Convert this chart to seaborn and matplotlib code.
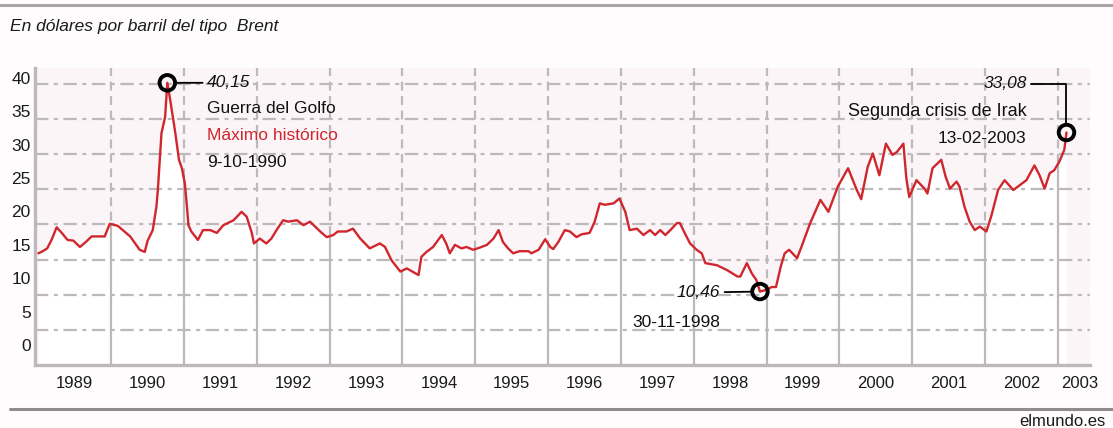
import numpy as np
import pandas as pd
import matplotlib
matplotlib.use("Agg")
import matplotlib.pyplot as plt
import matplotlib.transforms as mtransforms
from matplotlib.lines import Line2D
import seaborn as sns

# ---------------- data ----------------
fechas = [
    1989.00, 1989.06, 1989.12, 1989.18, 1989.25, 1989.32, 1989.40, 1989.48, 1989.57, 1989.65,
    1989.73, 1989.91, 1989.98, 1990.09, 1990.26, 1990.39, 1990.46, 1990.50, 1990.57, 1990.62,
    1990.64, 1990.69, 1990.74, 1990.77, 1990.81, 1990.88, 1990.93, 1990.97, 1991.01, 1991.04,
    1991.06, 1991.10, 1991.19, 1991.26, 1991.36, 1991.45, 1991.54, 1991.68, 1991.79, 1991.86,
    1991.93, 1991.96, 1992.04, 1992.13, 1992.20, 1992.27, 1992.36, 1992.43, 1992.55, 1992.64,
    1992.73, 1992.87, 1992.96, 1993.05, 1993.11, 1993.23, 1993.32, 1993.42, 1993.55, 1993.69,
    1993.76, 1993.85, 1993.97, 1994.06, 1994.22, 1994.26, 1994.33, 1994.42, 1994.49, 1994.54,
    1994.60, 1994.65, 1994.72, 1994.81, 1994.88, 1994.97, 1995.06, 1995.16, 1995.25, 1995.32,
    1995.38, 1995.45, 1995.52, 1995.61, 1995.73, 1995.77, 1995.87, 1995.96, 1996.03, 1996.07,
    1996.14, 1996.23, 1996.30, 1996.39, 1996.46, 1996.57, 1996.64, 1996.71, 1996.78, 1996.90,
    1996.98, 1997.06, 1997.12, 1997.22, 1997.31, 1997.40, 1997.47, 1997.54, 1997.61, 1997.68,
    1997.77, 1997.81, 1997.88, 1997.95, 1998.04, 1998.11, 1998.16, 1998.32, 1998.46, 1998.60,
    1998.64, 1998.73, 1998.80, 1998.86, 1998.91, 1999.00, 1999.07, 1999.13, 1999.20, 1999.25,
    1999.31, 1999.42, 1999.49, 1999.60, 1999.74, 1999.85, 1999.98, 2000.12, 2000.24, 2000.30,
    2000.39, 2000.46, 2000.55, 2000.64, 2000.73, 2000.79, 2000.88, 2000.92, 2000.96, 2001.06,
    2001.17, 2001.21, 2001.28, 2001.35, 2001.40, 2001.46, 2001.52, 2001.61, 2001.65, 2001.72,
    2001.79, 2001.86, 2001.93, 2002.02, 2002.09, 2002.18, 2002.27, 2002.39, 2002.48, 2002.57,
    2002.68, 2002.75, 2002.82, 2002.89, 2002.95, 2003.02, 2003.09, 2003.12,
]
precios = [
    15.9, 16.2, 16.6, 17.8, 19.6, 18.8, 17.8, 17.7, 16.8, 17.5,
    18.3, 18.3, 20.1, 19.8, 18.3, 16.4, 16.1, 17.7, 19.2, 22.5,
    24.9, 33.0, 35.3, 40.15, 37.7, 33.0, 29.2, 28.0, 25.9, 22.5,
    19.9, 19.0, 17.8, 19.2, 19.2, 18.8, 19.9, 20.6, 21.8, 21.1,
    18.8, 17.3, 18.0, 17.3, 18.0, 19.2, 20.6, 20.4, 20.6, 19.9,
    20.4, 19.0, 18.2, 18.5, 19.0, 19.0, 19.4, 18.0, 16.6, 17.3,
    16.8, 14.9, 13.3, 13.75, 12.8, 15.4, 16.1, 16.8, 17.8, 18.5,
    17.3, 15.9, 17.1, 16.6, 16.8, 16.4, 16.7, 17.1, 18.0, 19.2,
    17.5, 16.6, 15.9, 16.2, 16.2, 15.9, 16.4, 17.9, 16.8, 16.5,
    17.5, 19.2, 19.0, 18.2, 18.6, 18.8, 20.4, 23.0, 22.8, 23.0,
    23.7, 21.8, 19.2, 19.4, 18.5, 19.2, 18.5, 19.2, 18.5, 19.2,
    20.2, 20.2, 18.7, 17.3, 16.4, 15.9, 14.5, 14.2, 13.5, 12.6,
    12.6, 14.5, 13.0, 12.1, 10.46, 10.7, 11.1, 11.1, 14.2, 15.9,
    16.4, 15.2, 17.1, 20.2, 23.5, 21.8, 25.4, 28.0, 24.9, 23.6,
    28.2, 30.1, 27.0, 31.5, 29.9, 30.3, 31.5, 26.6, 23.9, 26.3,
    25.1, 24.4, 28.0, 28.7, 29.2, 26.8, 25.1, 26.1, 25.4, 22.5,
    20.4, 19.2, 19.7, 19.0, 21.3, 24.9, 26.3, 24.9, 25.6, 26.3,
    28.4, 27.0, 25.1, 27.3, 27.7, 28.9, 30.6, 33.08,
]
anios = [1989, 1990, 1991, 1992, 1993, 1994, 1995, 1996, 1997, 1998,
         1999, 2000, 2001, 2002, 2003]
etiquetas_anios = [str(a) for a in anios]
y_ticks = [0, 5, 10, 15, 20, 25, 30, 35, 40]

# annotated events
ev_fechas = [1990.77, 1998.91, 2003.12]
ev_precios = [40.15, 10.46, 33.08]
ev_valores = ["40,15", "10,46", "33,08"]

subtitulo = "En dólares por barril del tipo  Brent"
fuente = "elmundo.es"

# ---------------- style ----------------
sns.set_theme(style="white")
plt.rcParams["font.family"] = ["Liberation Sans", "DejaVu Sans"]

RED = "#d0262d"
GRID = "#bdb8ba"
PINK = "#fcf5f8"

fig = plt.figure(figsize=(11.13, 4.28), dpi=100)
fig.patch.set_facecolor("#fefcfd")
ax = fig.add_axes([0.0314, 0.147, 0.948, 0.694])
ax.set_facecolor(PINK)

df = pd.DataFrame({"fecha": fechas, "precio": precios})

ax.set_xlim(1988.952, 2003.444)
ax.set_ylim(0, 42.25)

# white area below the curve
poly = ax.fill_between(df["fecha"], 0, df["precio"], color="white", zorder=1, lw=0)
clip_path = poly.get_paths()[0]

# vertical grid: dashed above the curve, solid below it
for a in anios[1:]:
    ax.axvline(a, color=GRID, lw=1.6, ls=(0, (4, 2.5)), zorder=0.8)
    l2 = ax.axvline(a, color=GRID, lw=1.6, ls="-", zorder=1.2)
    l2.set_clip_path(clip_path, ax.transData)

# horizontal grid (dash-dot)
for v in y_ticks[1:]:
    ax.axhline(v, color=GRID, lw=1.6, ls=(0, (6, 2.5, 1.8, 2.5)), zorder=1.5)

sns.lineplot(data=df, x="fecha", y="precio", color=RED, lw=1.7, ax=ax, zorder=3)

# rings on the events
ax.scatter(ev_fechas, ev_precios, s=125, facecolors="none", edgecolors="black",
           linewidths=2.8, zorder=4)

# spines
for s in ["top", "right"]:
    ax.spines[s].set_visible(False)
for s in ["left", "bottom"]:
    ax.spines[s].set_color(GRID)
    ax.spines[s].set_linewidth(2.4)

ax.set_xlabel("")
ax.set_ylabel("")

# y ticks (labels sit a little above their grid lines, as in the original)
ax.set_yticks(y_ticks)
ax.set_yticklabels([str(v) for v in y_ticks])
ax.tick_params(axis="y", length=0, pad=3, labelsize=12.5, labelcolor="#1a1a1a")
for t, v in zip(ax.yaxis.get_major_ticks(), y_ticks):
    shift = (6 + (40 - v) / 40 * 14) / 100.0
    off = mtransforms.ScaledTranslation(0, shift, fig.dpi_scale_trans)
    t.label1.set_transform(t.label1.get_transform() + off)

# x ticks: tick marks at year boundaries, labels at mid-year
ax.set_xticks(anios[1:])
ax.set_xticklabels([])
ax.tick_params(axis="x", which="major", length=12, width=1, color="#d8d4d6", direction="out")
mid = [a + 0.5 for a in anios[:-1]] + [anios[-1] + 0.3]
ax.set_xticks(mid, minor=True)
ax.set_xticklabels(etiquetas_anios, minor=True)
ax.tick_params(axis="x", which="minor", length=0, pad=8, labelsize=12, labelcolor="#1a1a1a")

# annotations
ann_kw = dict(textcoords="offset pixels", fontsize=12.5, color="#111111")
arrow = dict(arrowstyle="-", color="black", lw=1.3, shrinkA=1, shrinkB=6)

# peak 1990
ax.annotate(ev_valores[0], xy=(ev_fechas[0], ev_precios[0]), xytext=(40, 0),
            ha="left", va="center", style="italic", arrowprops=arrow, **ann_kw)
ax.annotate("Guerra del Golfo", xy=(ev_fechas[0], ev_precios[0]), xytext=(40, -26),
            ha="left", va="center", **ann_kw)
ax.annotate("Máximo histórico", xy=(ev_fechas[0], ev_precios[0]), xytext=(40, -53),
            ha="left", va="center", textcoords="offset pixels", fontsize=12.5, color=RED)
ax.annotate("9-10-1990", xy=(ev_fechas[0], ev_precios[0]), xytext=(40, -80),
            ha="left", va="center", **ann_kw)

# minimum 1998
ax.annotate(ev_valores[1], xy=(ev_fechas[1], ev_precios[1]), xytext=(-40, -1),
            ha="right", va="center", style="italic", arrowprops=arrow, **ann_kw)
ax.annotate("30-11-1998", xy=(ev_fechas[1], ev_precios[1]), xytext=(-40, -31),
            ha="right", va="center", **ann_kw)

# end 2003
arrow2 = dict(arrowstyle="-", color="black", lw=1.3, shrinkA=1, shrinkB=6,
              connectionstyle="angle,angleA=0,angleB=90,rad=0")
ax.annotate(ev_valores[2], xy=(ev_fechas[2], ev_precios[2]), xytext=(-40, 49),
            ha="right", va="center", style="italic", arrowprops=arrow2, **ann_kw)
ax.annotate("Segunda crisis de Irak", xy=(ev_fechas[2], ev_precios[2]), xytext=(-40, 21),
            ha="right", va="center", fontsize=13, color="#111111", textcoords="offset pixels")
ax.annotate("13-02-2003", xy=(ev_fechas[2], ev_precios[2]), xytext=(-40, -6),
            ha="right", va="center", **ann_kw)

# header / footer
fig.add_artist(Line2D([0, 1], [1 - 5 / 428, 1 - 5 / 428], transform=fig.transFigure,
                      color="#a8a6a7", lw=2.2))
fig.text(10 / 1113, 1 - 27 / 428, subtitulo, ha="left", va="center",
         style="italic", fontsize=12.5, color="#1a1a1a")
fig.add_artist(Line2D([10 / 1113, 1], [1 - 409 / 428, 1 - 409 / 428], transform=fig.transFigure,
                      color="#8e8c8d", lw=2.2))
fig.text(1106 / 1113, 1 - 421 / 428, fuente, ha="right", va="center",
         fontsize=12, color="#1a1a1a")

fig.savefig("out.png", dpi=100, facecolor=fig.get_facecolor())
